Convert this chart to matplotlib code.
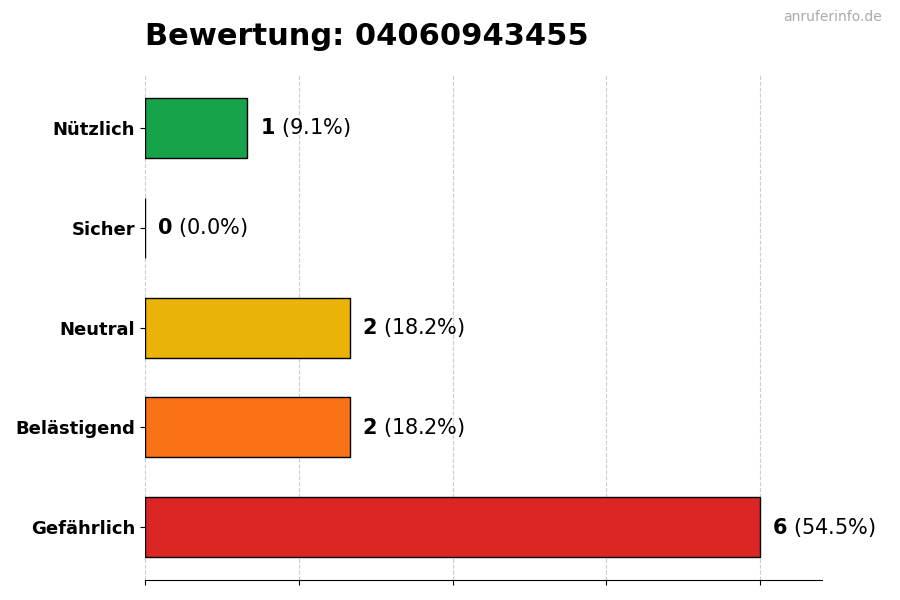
import matplotlib
matplotlib.use("Agg")
import matplotlib.pyplot as plt

categories = ["Gefährlich", "Belästigend", "Neutral", "Sicher", "Nützlich"]
counts = [6, 2, 2, 0, 1]
colors = ["#dc2626", "#f97316", "#eab308", "#6b7280", "#16a34a"]
total = sum(counts)

fig = plt.figure(figsize=(9, 6), dpi=100)
ax = fig.add_axes([0.161, 0.033, 0.752, 0.842])
ypos = list(range(len(categories)))
ax.barh(ypos, counts, height=0.6, color=colors, edgecolor="black", linewidth=1, zorder=3)
for y, c in zip(ypos, counts):
    ax.text(c + 0.12, y, r"$\bf{%d}$" % c + f" ({c/total*100:.1f}%)", va="center", fontsize=15)
ax.set_yticks(ypos)
ax.set_yticklabels(categories, fontsize=13, fontweight="bold")
ax.set_xlim(0, 6.6)
ax.set_ylim(-0.53, 4.53)
ax.set_xticks([0, 1.5, 3, 4.5, 6])
ax.set_xticklabels([])
ax.grid(axis="x", linestyle="--", color="#cccccc", zorder=0)
for s in ["top", "right", "left"]:
    ax.spines[s].set_visible(False)
fig.text(0.161, 0.925, "Bewertung: 04060943455", fontsize=22, fontweight="bold")
fig.text(0.98, 0.965, "anruferinfo.de", fontsize=10, color="#aaaaaa", ha="right")
fig.savefig("out.png")
